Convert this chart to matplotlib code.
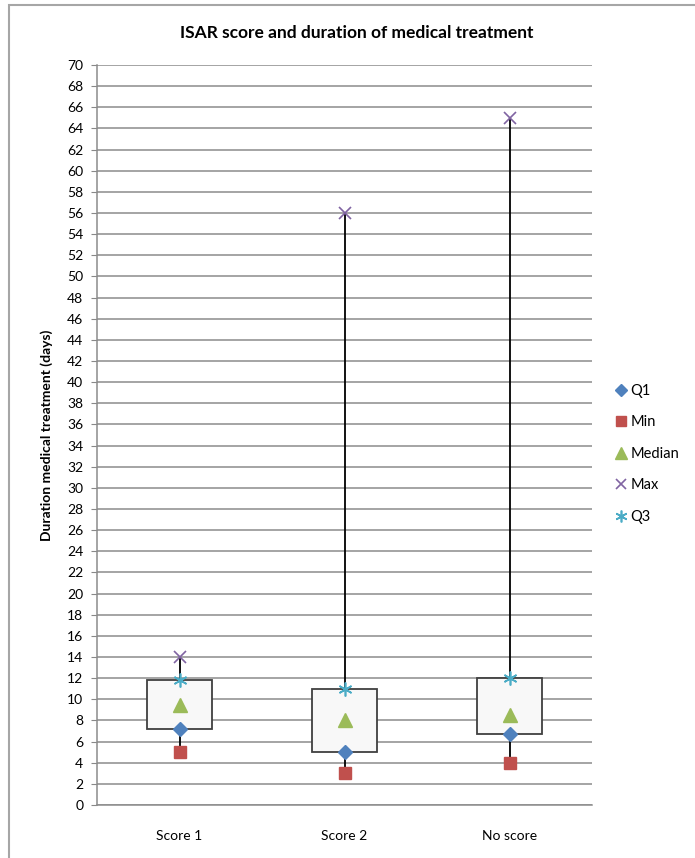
import matplotlib.pyplot as plt
from matplotlib.patches import Rectangle
import numpy as np

plt.rcParams['font.family'] = ['Lato', 'DejaVu Sans']

categories = ['Score 1', 'Score 2', 'No score']
q1 = [7.2, 5.0, 6.7]
mins = [5.0, 3.0, 4.0]
median = [9.5, 8.0, 8.5]
maxs = [14.0, 56.0, 65.0]
q3 = [11.8, 11.0, 12.0]

fig = plt.figure(figsize=(6.95, 8.58), dpi=100)
ax = fig.add_axes([0.1396, 0.0618, 0.7122, 0.8624])

x = np.arange(len(categories))
box_w = 0.39

# high-low line from min to max
for i in x:
    ax.plot([i, i], [mins[i], maxs[i]], color='black', lw=1.3, zorder=2)
    ax.add_patch(Rectangle((i - box_w / 2, q1[i]), box_w, q3[i] - q1[i],
                           facecolor='#f8f8f8', edgecolor='#404040', lw=1.3, zorder=3))

ax.plot(x, q1, ls='none', marker='D', ms=7.5, color='#4f81bd', label='Q1', zorder=4)
ax.plot(x, mins, ls='none', marker='s', ms=9, color='#c0504d', label='Min', zorder=4)
ax.plot(x, median, ls='none', marker='^', ms=10, color='#9bbb59', label='Median', zorder=4)
ax.plot(x, maxs, ls='none', marker='x', ms=9, mew=1.2, color='#8064a2', label='Max', zorder=4)
ax.plot(x, q3, ls='none', marker=(6, 2, 0), ms=10, mew=1.2, color='#4bacc6', label='Q3', zorder=4)

ax.set_xlim(-0.5, 2.5)
ax.set_ylim(0, 70)
ax.set_yticks(np.arange(0, 71, 2))
ax.set_xticks(x)
ax.set_xticklabels(categories)
ax.tick_params(axis='y', length=4, color='#888888', labelsize=10, pad=6)
ax.tick_params(axis='x', length=0, labelsize=10, pad=18)
ax.grid(axis='y', color='#8c8c8c', lw=1.1, zorder=0)
ax.set_axisbelow(True)
for s in ['top', 'right']:
    ax.spines[s].set_visible(False)
for s in ['left', 'bottom']:
    ax.spines[s].set_color('#8c8c8c')
    ax.spines[s].set_linewidth(1.1)

ax.set_ylabel('Duration medical treatment (days)', fontsize=10, fontweight='bold', labelpad=10)
fig.text(0.5137, 0.962, 'ISAR score and duration of medical treatment',
         ha='center', va='center', fontsize=12.5, fontweight='bold')

fig.legend(loc='center left', bbox_to_anchor=(0.866, 0.471), frameon=False,
           fontsize=10.5, handlelength=0.8, handletextpad=0.25, labelspacing=1.2,
           markerscale=0.85)

# outer chart border
fig.add_artist(Rectangle((9 / 695, -0.1), 1.2, 1.1 - 5 / 858, transform=fig.transFigure,
                         fill=False, edgecolor='#a6a6a6', lw=1.5))

fig.savefig('out.png', dpi=100)
